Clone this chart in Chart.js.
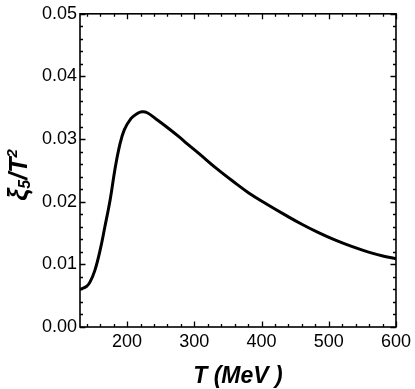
<!DOCTYPE html>
<html>
<head>
<meta charset="utf-8">
<script src="https://cdn.jsdelivr.net/npm/chart.js@4.4.0/dist/chart.umd.min.js"></script>
<style>
  html, body { margin: 0; padding: 0; background: #fff; }
  #wrap { width: 415px; height: 389px; }
</style>
</head>
<body>
<div id="wrap"><canvas id="xiChart"></canvas></div>
<script>
// Values: T in MeV, xi5/T^2
const temps = [130, 140, 145, 152, 160, 167, 175, 182, 189, 196, 206, 214, 222, 230, 243, 258, 278, 290, 308, 332, 357, 381, 408, 435, 460, 484, 509, 533, 558, 582, 600];
const xiOverT2 = [0.0060, 0.0065, 0.0072, 0.0090, 0.0123, 0.0160, 0.0204, 0.0252, 0.0290, 0.0315, 0.0333, 0.0340, 0.03435, 0.0342, 0.0332, 0.0320, 0.0303, 0.0292, 0.0276, 0.0254, 0.0233, 0.0214, 0.0196, 0.0179, 0.0164, 0.0151, 0.0139, 0.0129, 0.0120, 0.0113, 0.0109];

const xTickValues = [200, 300, 400, 500, 600];
const yTickValues = [0.00, 0.01, 0.02, 0.03, 0.04, 0.05];

const fontFam = "'Liberation Sans', Arial, sans-serif";

// Mathematica-style frame: box all round with inward major/minor ticks
const frameTicks = {
  id: 'frameTicks',
  afterDraw(chart) {
    const ctx = chart.ctx;
    const a = chart.chartArea;
    const xs = chart.scales.x, ys = chart.scales.y;
    ctx.save();
    ctx.strokeStyle = '#000';
    ctx.lineWidth = 1.6;
    ctx.strokeRect(a.left, a.top, a.right - a.left, a.bottom - a.top);

    ctx.lineWidth = 1.3;
    ctx.beginPath();
    // x ticks every 20, major every 100
    for (let v = 140; v <= 600; v += 20) {
      const px = Math.round(xs.getPixelForValue(v)) + 0.5;
      const len = v % 100 === 0 ? 5.5 : 3;
      ctx.moveTo(px, a.bottom); ctx.lineTo(px, a.bottom - len);
      ctx.moveTo(px, a.top); ctx.lineTo(px, a.top + len);
    }
    // y ticks every 0.002, major every 0.01
    for (let i = 0; i <= 25; i++) {
      const v = i * 0.002;
      const py = Math.round(ys.getPixelForValue(v)) + 0.5;
      const len = i % 5 === 0 ? 5.5 : 3;
      ctx.moveTo(a.left, py); ctx.lineTo(a.left + len, py);
      ctx.moveTo(a.right, py); ctx.lineTo(a.right - len, py);
    }
    ctx.stroke();
    ctx.restore();
  }
};

// y title with real sub/superscript: xi_5 / T^2
const yTitle = {
  id: 'yTitle',
  afterDraw(chart) {
    const ctx = chart.ctx;
    const parts = [
      {t: 'ξ', size: 27, dy: 0},
      {t: '5', size: 16, dy: 3},
      {t: '/', size: 25, dy: 0},
      {t: 'T', size: 25, dy: 0},
      {t: '2', size: 15, dy: -10}
    ];
    ctx.save();
    ctx.fillStyle = '#000';
    ctx.textBaseline = 'alphabetic';
    let total = 0;
    parts.forEach(p => {
      ctx.font = 'italic bold ' + p.size + 'px ' + fontFam;
      p.w = ctx.measureText(p.t).width;
      total += p.w;
    });
    ctx.translate(27, 175);
    ctx.rotate(-Math.PI / 2);
    let x = -total / 2;
    parts.forEach(p => {
      ctx.font = 'italic bold ' + p.size + 'px ' + fontFam;
      ctx.fillText(p.t, x, p.dy);
      x += p.w;
    });
    ctx.restore();
  }
};

new Chart(document.getElementById('xiChart'), {
  type: 'line',
  data: {
    datasets: [{
      data: temps.map((t, i) => ({x: t, y: xiOverT2[i]})),
      borderColor: '#000',
      borderWidth: 3,
      pointRadius: 0,
      fill: false,
      tension: 0.4
    }]
  },
  options: {
    responsive: true,
    maintainAspectRatio: false,
    animation: false,
    layout: { padding: { top: 11, right: 18, left: 0, bottom: 0 } },
    plugins: { legend: { display: false }, tooltip: { enabled: false } },
    scales: {
      x: {
        type: 'linear',
        min: 130,
        max: 600,
        afterBuildTicks: s => { s.ticks = xTickValues.map(v => ({value: v})); },
        afterFit: s => { s.height = 62; },
        grid: { display: false, drawTicks: false },
        border: { display: false },
        ticks: {
          color: '#000',
          padding: 4,
          maxRotation: 0,
          font: { family: fontFam, size: 18 }
        },
        title: {
          display: true,
          text: 'T (MeV )',
          color: '#000',
          padding: { top: 0, bottom: 0 },
          font: { family: fontFam, size: 23, weight: 'bold', style: 'italic', lineHeight: 1.1 }
        }
      },
      y: {
        min: 0,
        max: 0.05,
        afterBuildTicks: s => { s.ticks = yTickValues.map(v => ({value: v})); },
        afterFit: s => { s.width = 80; },
        grid: { display: false, drawTicks: false },
        border: { display: false },
        ticks: {
          color: '#000',
          padding: 3,
          callback: v => v.toFixed(2),
          font: { family: fontFam, size: 18 }
        }
      }
    }
  },
  plugins: [frameTicks, yTitle]
});
</script>
</body>
</html>
